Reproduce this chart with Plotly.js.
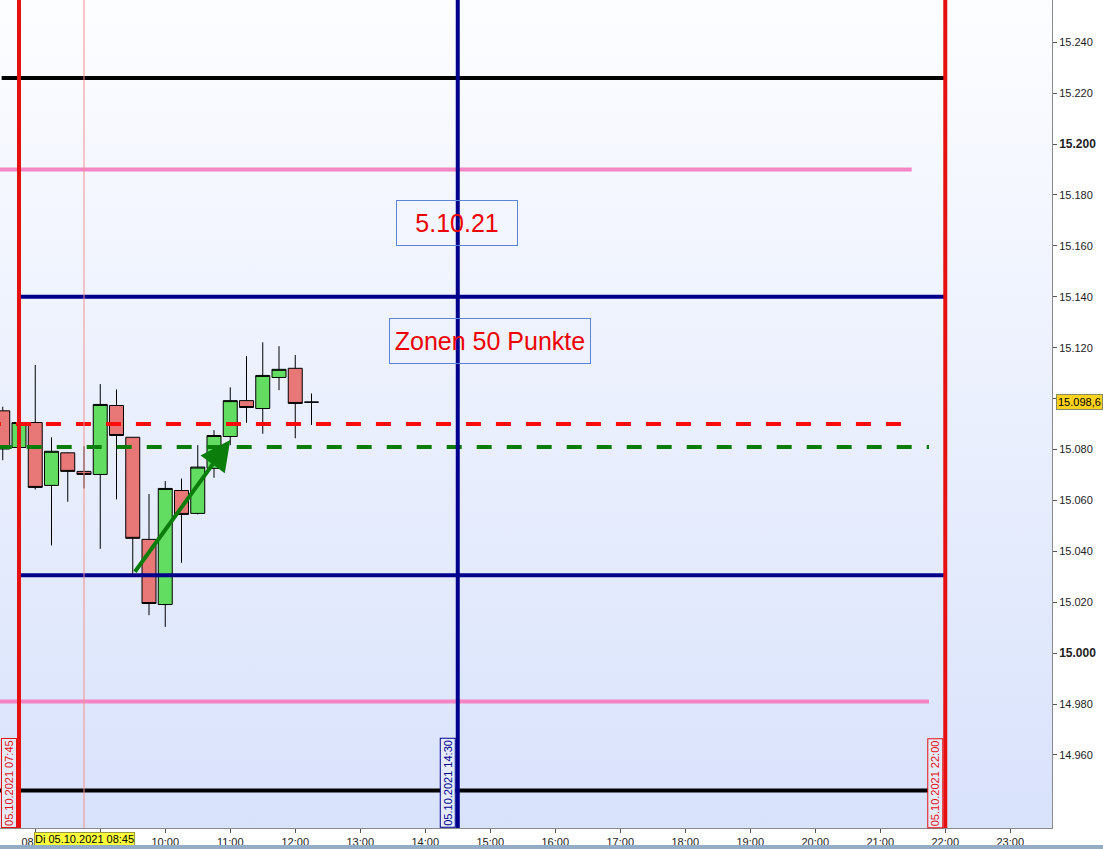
<!DOCTYPE html>
<html>
<head>
<meta charset="utf-8">
<script src="https://cdn.plot.ly/plotly-3.0.1.min.js"></script>
<style>
html, body { margin: 0; padding: 0; background: #fff; overflow: hidden; }
#fondo { position: absolute; left: 0; top: 0; width: 1052px; height: 828px; background: linear-gradient(#fcfdff, #d8e2fb); }
#chart { position: absolute; left: 0; top: 0; width: 1103px; height: 849px; }
#barra { position: absolute; left: 0; top: 845px; width: 1103px; height: 4px; background: #93adc6; }
</style>
</head>
<body>
<div id="fondo"></div>
<div id="chart"></div>
<div id="barra"></div>
<script>
// velas de 15 minutos, 05.10.2021
const dia = '2021-10-05';
const horas = ['07:30', '07:45', '08:00', '08:15', '08:30', '08:45', '09:00', '09:15', '09:30', '09:45',
    '10:00', '10:15', '10:30', '10:45', '11:00', '11:15', '11:30', '11:45', '12:00', '12:15'];
const apertura = [15095.2, 15080.8, 15090.6, 15065.9, 15078.7, 15071.4, 15070.2, 15097.3, 15084.8, 15044.7,
    15019.1, 15063.9, 15054.9, 15072.6, 15085.1, 15099.2, 15096.1, 15108.3, 15111.9, 15098.6];
const maximo = [15096.8, 15091.5, 15113.2, 15084.8, 15078.9, 15081.3, 15105.7, 15103.6, 15084.9, 15062.5,
    15067.6, 15068.6, 15081.7, 15087.6, 15104.4, 15116.7, 15122.1, 15120.6, 15117.1, 15102.0];
const minimo = [15075.8, 15080.0, 15064.3, 15042.3, 15059.5, 15064.7, 15041.0, 15060.4, 15030.6, 15014.9,
    15010.3, 15035.5, 15054.5, 15068.9, 15081.7, 15090.5, 15086.2, 15103.3, 15084.4, 15089.6];
const cierre = [15080.2, 15090.6, 15065.1, 15079.3, 15071.4, 15070.2, 15097.7, 15085.5, 15045.1, 15019.5,
    15064.7, 15054.5, 15073.1, 15085.5, 15099.2, 15096.5, 15109.1, 15111.5, 15098.1, 15098.6];

// niveles horizontales
const nivelesPrecio = [15226, 15190, 15140, 15090, 15081, 15030.6, 14981, 14946];
const nivelesInicio = ['07:29', null, '07:45', '07:14:30', '07:24:25', '07:45', null, null];
const nivelesFin = ['22:00', '21:29', '22:00', '21:20', '21:45', '22:00', '21:45', '21:45'];
const nivelesEstilo = [
    { color: '#000000', width: 4 },
    { color: '#f585c5', width: 4 },
    { color: '#00008b', width: 4 },
    { color: '#ff0a0a', width: 4, dash: '15px,15px' },
    { color: '#0b7d0b', width: 4, dash: '15px,15px' },
    { color: '#00008b', width: 4 },
    { color: '#f585c5', width: 4 },
    { color: '#000000', width: 4 }
];

// lineas verticales
const verticalesHora = ['07:45', '08:45', '14:30', '22:00'];
const verticalesEstilo = [
    { color: '#e51010', width: 4 },
    { color: '#f29090', width: 1 },
    { color: '#00008b', width: 4 },
    { color: '#e51010', width: 4 }
];
const etiquetasVerticales = ['05.10.2021 07:45', null, '05.10.2021 14:30', '05.10.2021 22:00'];

const yTicks = [14960, 14980, 15000, 15020, 15040, 15060, 15080, 15100, 15120, 15140, 15160, 15180, 15200, 15220, 15240];
// 15.100 queda tapado por la etiqueta del precio actual
const yTickText = ['14.960', '14.980', '<span style="font-size:12px"><b>15.000</b></span>', '15.020', '15.040', '15.060',
    '15.080', '', '15.120', '15.140', '15.160', '15.180', '<span style="font-size:12px"><b>15.200</b></span>', '15.220', '15.240'];

const precioActual = 15098.6;
const precioActualTexto = '15.098,6';
const cursorTexto = 'Di 05.10.2021 08:45';
const flechaDesde = ['09:31', 15031.4];
const flechaHasta = ['11:00', 15083.7];
const textos = [
    { hora: '14:29', precio: 15169, texto: '5.10.21', ancho: 116 },
    { hora: '15:00', precio: 15122.6, texto: 'Zonen 50 Punkte', ancho: 196 }
];

const t = h => `${dia} ${h}`;
const xRango = [t('07:27:28'), t('23:38:31')];
const yRango = [14931.3, 15256.6];

function construirShapes() {
    const shapes = nivelesPrecio.map((p, i) => ({
        type: 'line', layer: 'above', xref: 'x', yref: 'y',
        x0: nivelesInicio[i] ? t(nivelesInicio[i]) : xRango[0], x1: t(nivelesFin[i]),
        y0: p, y1: p, line: nivelesEstilo[i]
    }));
    verticalesHora.forEach((h, i) => {
        shapes.push({
            type: 'line', layer: 'above', xref: 'x', yref: 'paper',
            x0: t(h), x1: t(h), y0: 0, y1: 1, line: verticalesEstilo[i]
        });
    });
    return shapes;
}

function construirAnotaciones() {
    const anns = [];
    verticalesHora.forEach((h, i) => {
        if (!etiquetasVerticales[i]) return;
        const col = verticalesEstilo[i].color;
        anns.push({
            x: t(h), xref: 'x', xanchor: 'right', xshift: -2,
            y: 0, yref: 'paper', yanchor: 'bottom',
            text: etiquetasVerticales[i], textangle: -90, showarrow: false,
            font: { family: 'Liberation Sans, Arial', size: 11, color: col },
            bgcolor: '#e4ebfc', bordercolor: col, borderwidth: 1, borderpad: 1
        });
    });
    textos.forEach(a => {
        anns.push({
            x: t(a.hora), y: a.precio, xref: 'x', yref: 'y', text: a.texto, showarrow: false,
            width: a.ancho, height: 40, align: 'center', valign: 'middle',
            font: { family: 'Liberation Sans, Arial', size: 25, color: '#ee0000' },
            bgcolor: 'rgba(255,255,255,0)', bordercolor: '#5b84d8', borderwidth: 1, borderpad: 2
        });
    });
    anns.push({
        x: t(flechaHasta[0]), y: flechaHasta[1], ax: t(flechaDesde[0]), ay: flechaDesde[1],
        xref: 'x', yref: 'y', axref: 'x', ayref: 'y', text: '', showarrow: true,
        arrowhead: 2, arrowsize: 1.5, arrowwidth: 4, arrowcolor: '#0b7d0b', standoff: 0
    });
    anns.push({
        x: t('08:45'), xref: 'x', y: 0, yref: 'paper', yanchor: 'top', yshift: -4,
        text: cursorTexto, showarrow: false,
        font: { family: 'Liberation Sans, Arial', size: 11, color: '#000' },
        bgcolor: '#ffff3c', bordercolor: '#9a9a40', borderwidth: 1, borderpad: 0
    });
    anns.push({
        x: 1, xref: 'paper', xanchor: 'left', xshift: 4, y: precioActual, yref: 'y',
        text: precioActualTexto, showarrow: false,
        font: { family: 'Liberation Sans, Arial', size: 11, color: '#000' },
        bgcolor: '#ffd21e', bordercolor: '#8a8a60', borderwidth: 1, borderpad: 1
    });
    return anns;
}

const velas = {
    type: 'candlestick', x: horas.map(t),
    open: apertura, high: maximo, low: minimo, close: cierre,
    increasing: { line: { color: '#000000', width: 1 }, fillcolor: '#62dd62' },
    decreasing: { line: { color: '#000000', width: 1 }, fillcolor: '#e87777' },
    whiskerwidth: 0, hoverinfo: 'skip', showlegend: false
};

Plotly.newPlot('chart', [velas], {
    width: 1103, height: 849,
    margin: { l: 0, r: 51, t: 0, b: 21 },
    paper_bgcolor: 'rgba(0,0,0,0)', plot_bgcolor: 'rgba(0,0,0,0)',
    separators: ',.', boxgap: 0.14, boxgroupgap: 0,
    font: { family: 'Liberation Sans, Arial', size: 11, color: '#222' },
    xaxis: {
        type: 'date', range: xRango, rangeslider: { visible: false },
        tickformat: '%H:%M', dtick: 3600000, tick0: t('00:00'),
        showgrid: false, zeroline: false, showline: true, linecolor: '#8a8a8a',
        ticks: 'outside', ticklen: 4, tickcolor: '#555', tickfont: { size: 11, color: '#222' }
    },
    yaxis: {
        side: 'right', range: yRango, tickvals: yTicks, ticktext: yTickText,
        showgrid: false, zeroline: false, showline: true, linecolor: '#8a8a8a',
        ticks: 'outside', ticklen: 4, tickcolor: '#555', tickfont: { size: 11, color: '#222' }
    },
    shapes: construirShapes(),
    annotations: construirAnotaciones()
}, { displayModeBar: false, staticPlot: true });
</script>
</body>
</html>
